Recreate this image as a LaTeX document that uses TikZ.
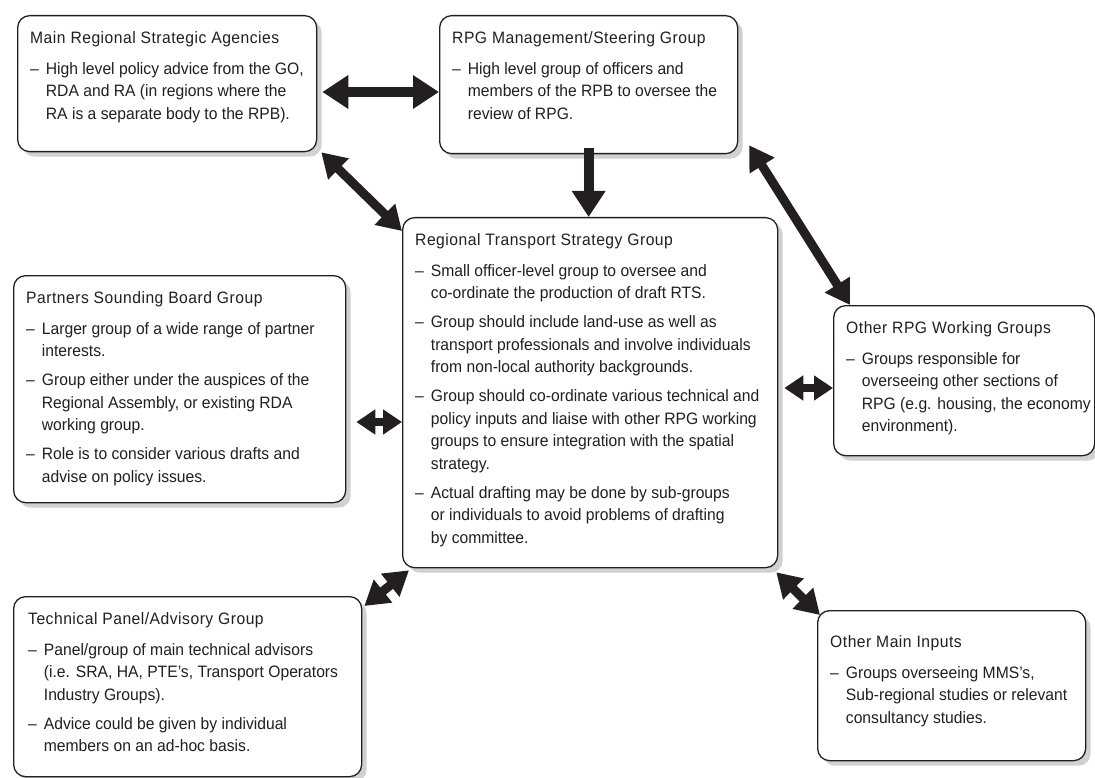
\documentclass[tikz,border=0pt]{standalone}
\usepackage{fontspec}
\setmainfont{Liberation Sans}[FakeStretch=0.95]
\usetikzlibrary{arrows.meta,shadows,calc}
\definecolor{ink}{HTML}{231F20}
\newcommand{\ttl}[1]{\multicolumn{2}{@{}l@{}}{\addfontfeatures{LetterSpace=3}#1}}
\tikzset{
  boxshape/.style={draw=ink, line width=1.3pt, rounded corners=12pt, fill=white, anchor=north west, inner sep=0pt,
    drop shadow={shadow xshift=5pt, shadow yshift=-5pt, fill=black!18, opacity=1}},
  txt/.style={anchor=north west, inner sep=0pt, text=ink, font=\fontsize{16.5}{22.5}\selectfont, align=left},
  bigdbl/.style={draw=ink, line width=10pt, {Triangle[length=26pt,width=32pt]}-{Triangle[length=26pt,width=32pt]}},
  bigone/.style={draw=ink, line width=10pt, -{Triangle[length=26pt,width=32pt]}},
  diagdbl/.style={draw=ink, line width=9pt, {Triangle[length=24pt,width=28pt]}-{Triangle[length=24pt,width=28pt]}},
  shortdbl/.style={draw=ink, line width=8pt, {Triangle[length=19pt,width=24pt]}-{Triangle[length=19pt,width=24pt]}}
}
\begin{document}
\begin{tikzpicture}[x=1pt,y=-1pt]
\useasboundingbox (0,0) rectangle (1095,778);
% boxes
\node[boxshape, minimum width=299pt, minimum height=136pt] (b1) at (17,15) {};
\node[boxshape, minimum width=298pt, minimum height=138pt] (b2) at (439,15) {};
\node[boxshape, minimum width=375pt, minimum height=350pt] (c) at (402,217) {};
\node[boxshape, minimum width=332pt, minimum height=227pt] (p) at (13,275) {};
\node[boxshape, minimum width=261pt, minimum height=150pt] (o) at (833,305) {};
\node[boxshape, minimum width=348pt, minimum height=180pt] (t) at (13,596) {};
\node[boxshape, minimum width=268pt, minimum height=150pt] (m) at (817,610) {};
% texts
\node[txt] (tb1) at ([shift={(13,13)}]b1.north west) {\begin{tabular}{@{}l@{\hspace{7pt}}l@{}}
\ttl{Main Regional Strategic Agencies}\\[8pt]
– & High level policy advice from the GO,\\
  & RDA and RA (in regions where the\\
  & RA is a separate body to the RPB).
\end{tabular}};
\node[txt] (tb2) at ([shift={(13,13)}]b2.north west) {\begin{tabular}{@{}l@{\hspace{7pt}}l@{}}
\ttl{RPG Management/Steering Group}\\[8pt]
– & High level group of officers and\\
  & members of the RPB to oversee the\\
  & review of RPG.
\end{tabular}};
\node[txt] (tc) at ([shift={(13,13)}]c.north west) {\begin{tabular}{@{}l@{\hspace{7pt}}l@{}}
\ttl{Regional Transport Strategy Group}\\[8pt]
– & Small officer-level group to oversee and\\
  & co-ordinate the production of draft RTS.\\[6.5pt]
– & Group should include land-use as well as\\
  & transport professionals and involve individuals\\
  & from non-local authority backgrounds.\\[6.5pt]
– & Group should co-ordinate various technical and\\
  & policy inputs and liaise with other RPG working\\
  & groups to ensure integration with the spatial\\
  & strategy.\\[6.5pt]
– & Actual drafting may be done by sub-groups\\
  & or individuals to avoid problems of drafting\\
  & by committee.
\end{tabular}};
\node[txt] (tp) at ([shift={(13,13)}]p.north west) {\begin{tabular}{@{}l@{\hspace{7pt}}l@{}}
\ttl{Partners Sounding Board Group}\\[8pt]
– & Larger group of a wide range of partner\\
  & interests.\\[6.5pt]
– & Group either under the auspices of the\\
  & Regional Assembly, or existing RDA\\
  & working group.\\[6.5pt]
– & Role is to consider various drafts and\\
  & advise on policy issues.
\end{tabular}};
\node[txt] (to) at ([shift={(13,13)}]o.north west) {\begin{tabular}{@{}l@{\hspace{7pt}}l@{}}
\ttl{Other RPG Working Groups}\\[8pt]
– & Groups responsible for\\
  & overseeing other sections of\\
  & RPG (e.g. housing, the economy\\
  & environment).
\end{tabular}};
\node[txt] (tt) at ([shift={(15,13)}]t.north west) {\begin{tabular}{@{}l@{\hspace{7pt}}l@{}}
\ttl{Technical Panel/Advisory Group}\\[8pt]
– & Panel/group of main technical advisors\\
  & (i.e. SRA, HA, PTE's, Transport Operators\\
  & Industry Groups).\\[6.5pt]
– & Advice could be given by individual\\
  & members on an ad-hoc basis.
\end{tabular}};
\node[txt] (tm) at ([shift={(13,22)}]m.north west) {\begin{tabular}{@{}l@{\hspace{7pt}}l@{}}
\ttl{Other Main Inputs}\\[8pt]
– & Groups overseeing MMS's,\\
  & Sub-regional studies or relevant\\
  & consultancy studies.
\end{tabular}};
% connectors
\coordinate (a1s) at ([shift={(5,77)}]b1.north east);
\draw[bigdbl] (a1s) -- (a1s -| b2.west);
\draw[bigone] ([yshift=6pt]b2.south) -- (b2.south |- c.north);
\draw[diagdbl] ([shift={(4,0)}]b1.south east) -- ([shift={(0,14)}]c.north west);
\draw[diagdbl] ([shift={(11,-9)}]b2.south east) -- ([shift={(17,0)}]o.north west);
\coordinate (pe) at ([shift={(10,147)}]p.north east);
\draw[shortdbl] (pe) -- (pe -| c.west);
\coordinate (ce) at ([shift={(6,171)}]c.north east);
\draw[shortdbl] (ce) -- (ce -| o.west);
\draw[diagdbl] ([shift={(2,10)}]t.north east) -- ([shift={(7,2)}]c.south west);
\draw[diagdbl] ([shift={(-2,4)}]c.south east) -- ([shift={(3,5)}]m.north west);
\end{tikzpicture}
\end{document}
